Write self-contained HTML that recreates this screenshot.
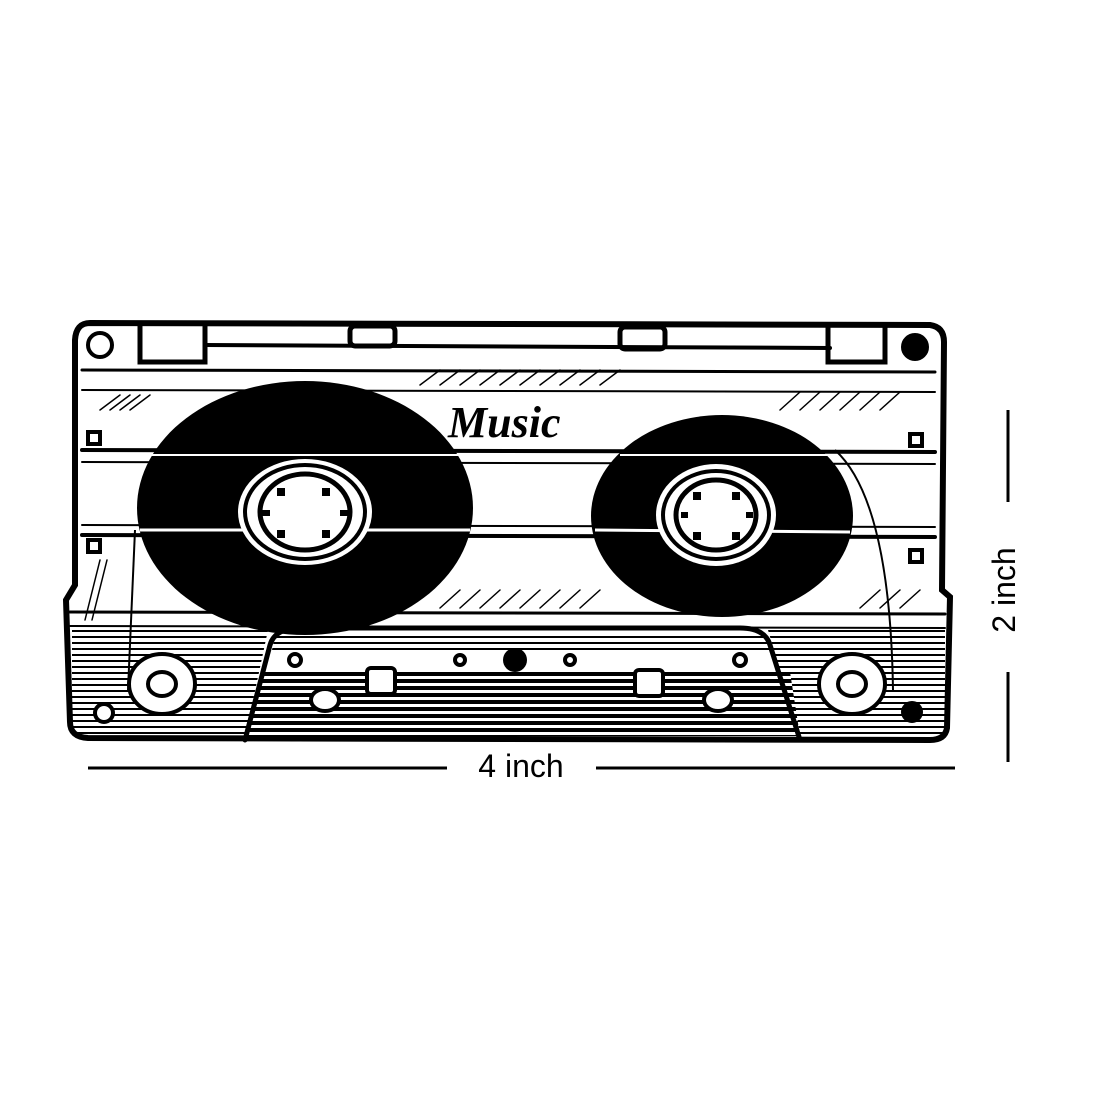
<!DOCTYPE html>
<html><head><meta charset="utf-8"><style>
html,body{margin:0;padding:0;background:#fff}
svg{display:block}
</style></head><body>
<svg width="1100" height="1100" viewBox="0 0 1100 1100" xmlns="http://www.w3.org/2000/svg">
<defs>
<pattern id="st" width="10" height="7" patternUnits="userSpaceOnUse">
<rect width="10" height="7" fill="#fff"/><rect width="10" height="4" fill="#000"/>
</pattern>
<pattern id="st2" width="10" height="6" patternUnits="userSpaceOnUse">
<rect width="10" height="6" fill="#fff"/><rect width="10" height="2" fill="#000"/>
</pattern>
</defs>
<rect width="1100" height="1100" fill="#fff"/>
<!-- bottom hatched zones -->
<path d="M72 630 L268 630 L245 738 L72 736 Z" fill="url(#st2)"/>
<path d="M768 630 L945 630 L945 738 L800 738 Z" fill="url(#st2)"/>
<path d="M262 672 L790 672 L800 736 L248 736 Z" fill="url(#st)"/>
<path d="M275 636 L765 636 L770 650 L272 650 Z" fill="url(#st2)"/>
<g stroke="#000" fill="none" stroke-linecap="round">
<path d="M90 323 L930 325 Q944 327 944 342 L942 590 L950 597 L947 728 Q945 740 930 740 L88 738 Q70 737 70 722 L66 600 L75 585 L75 340 Q76 323 90 323 Z" stroke-width="6"/>
<path d="M140 325 L140 362 L205 362 L205 325" stroke-width="5"/>
<path d="M828 327 L828 362 L885 362 L885 327" stroke-width="5"/>
<rect x="350" y="326" width="45" height="20" rx="5" stroke-width="5"/>
<rect x="620" y="327" width="45" height="22" rx="5" stroke-width="5"/>
<path d="M205 345 L830 348" stroke-width="4"/>
<path d="M82 370 L935 372" stroke-width="3"/>
<path d="M82 390 L935 392" stroke-width="2"/>
<path d="M82 450 L935 452" stroke-width="4"/>
<path d="M82 462 L935 464" stroke-width="2"/>
<path d="M82 525 L935 527" stroke-width="2"/>
<path d="M82 535 L935 537" stroke-width="4"/>
<path d="M70 612 L945 614" stroke-width="3"/>
<path d="M70 626 L945 628" stroke-width="2"/>
<g stroke-width="1.5">
<path d="M100 410 L120 395 M110 410 L130 395 M120 410 L140 395 M130 410 L150 395 M420 385 L440 370 M440 385 L460 370 M460 385 L480 370 M480 385 L500 370 M500 385 L520 370 M520 385 L540 370 M540 385 L560 370 M560 385 L580 370 M580 385 L600 370 M600 385 L620 370 M780 410 L800 392 M800 410 L820 392 M820 410 L840 392 M840 410 L860 392 M860 410 L880 392 M880 410 L900 392"/>
<path d="M440 608 L460 590 M460 608 L480 590 M480 608 L500 590 M500 608 L520 590 M520 608 L540 590 M540 608 L560 590 M560 608 L580 590 M580 608 L600 590 M860 608 L880 590 M880 608 L900 590 M900 608 L920 590 M85 620 L100 560 M92 620 L107 560"/>
</g>
<path d="M245 740 L270 645 Q275 628 300 628 L740 628 Q765 628 770 645 L800 740" stroke-width="5"/>
</g>
<g fill="#fff" stroke="#000" stroke-width="4">
<rect x="367" y="668" width="28" height="26" rx="4"/>
<rect x="635" y="670" width="28" height="26" rx="4"/>
<ellipse cx="325" cy="700" rx="14" ry="11"/>
<ellipse cx="718" cy="700" rx="14" ry="11"/>
<circle cx="295" cy="660" r="6"/>
<circle cx="460" cy="660" r="5"/>
<circle cx="570" cy="660" r="5"/>
<circle cx="740" cy="660" r="6"/>
</g>
<circle cx="515" cy="660" r="12" fill="#000"/>
<g stroke="#000" fill="#fff" stroke-width="4">
<ellipse cx="162" cy="684" rx="33" ry="30"/>
<ellipse cx="162" cy="684" rx="14" ry="12"/>
<ellipse cx="852" cy="684" rx="33" ry="30"/>
<ellipse cx="852" cy="684" rx="14" ry="12"/>
</g>
<g stroke="#000" stroke-width="4" fill="#fff">
<circle cx="100" cy="345" r="12"/>
<circle cx="915" cy="347" r="12" fill="#000"/>
<circle cx="104" cy="713" r="9"/>
<circle cx="912" cy="712" r="9" fill="#000"/>
<rect x="88" y="432" width="12" height="12"/>
<rect x="88" y="540" width="12" height="12"/>
<rect x="910" y="434" width="12" height="12"/>
<rect x="910" y="550" width="12" height="12"/>
</g>
<path d="M135 530 L128 690" stroke="#000" stroke-width="2" fill="none"/>
<path d="M835 450 Q890 500 893 690" stroke="#000" stroke-width="2" fill="none"/>
<ellipse cx="305" cy="508" rx="168" ry="127" fill="#000"/>
<path d="M140 530 L470 530" stroke="#fff" stroke-width="3"/>
<path d="M150 455 L465 455" stroke="#fff" stroke-width="2"/>
<ellipse cx="305" cy="512" rx="67" ry="53" fill="#fff"/>
<ellipse cx="305" cy="512" rx="60" ry="47" fill="none" stroke="#000" stroke-width="4"/>
<ellipse cx="305" cy="512" rx="45" ry="38" fill="none" stroke="#000" stroke-width="5"/>
<g fill="#000"><rect x="277" y="488" width="8" height="8"/><rect x="322" y="488" width="8" height="8"/><rect x="262" y="510" width="8" height="6"/><rect x="340" y="510" width="8" height="6"/><rect x="277" y="530" width="8" height="8"/><rect x="322" y="530" width="8" height="8"/></g>
<ellipse cx="722" cy="516" rx="131" ry="101" fill="#000"/>
<path d="M595 530 L850 532" stroke="#fff" stroke-width="3"/>
<path d="M620 455 L830 455" stroke="#fff" stroke-width="2"/>
<ellipse cx="716" cy="515" rx="60" ry="51" fill="#fff"/>
<ellipse cx="716" cy="515" rx="53" ry="44" fill="none" stroke="#000" stroke-width="4"/>
<ellipse cx="716" cy="515" rx="40" ry="35" fill="none" stroke="#000" stroke-width="5"/>
<g fill="#000"><rect x="693" y="492" width="8" height="8"/><rect x="732" y="492" width="8" height="8"/><rect x="681" y="512" width="7" height="6"/><rect x="746" y="512" width="7" height="6"/><rect x="693" y="532" width="8" height="8"/><rect x="732" y="532" width="8" height="8"/></g>
<text x="448" y="437" font-family="Liberation Serif, serif" font-style="italic" font-weight="bold" font-size="44" fill="#000">Music</text>
<g stroke="#000" stroke-width="3">
<line x1="88" y1="768" x2="447" y2="768"/>
<line x1="596" y1="768" x2="955" y2="768"/>
<line x1="1008" y1="410" x2="1008" y2="502"/>
<line x1="1008" y1="672" x2="1008" y2="762"/>
</g>
<text x="521" y="777" text-anchor="middle" font-family="Liberation Sans, sans-serif" font-size="32" fill="#000">4 inch</text>
<text transform="translate(1015,590) rotate(-90)" text-anchor="middle" font-family="Liberation Sans, sans-serif" font-size="32" fill="#000">2 inch</text>
</svg>
</body></html>
